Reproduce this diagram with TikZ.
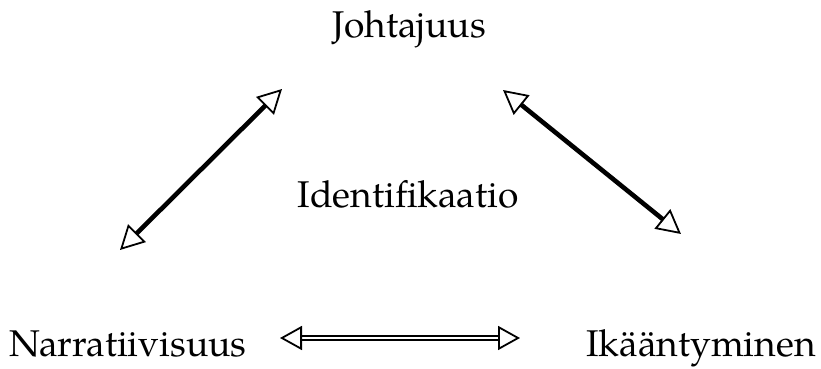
\documentclass[tikz,border=0pt]{standalone}
\usepackage{fontspec}
\setmainfont{TeX Gyre Pagella}
\usetikzlibrary{arrows.meta}
\tikzset{
    LAB/.style ={anchor=base, inner sep=0pt, font=\fontsize{18.6}{22}\selectfont},
    AR1/.style ={line width=2.3pt, {Triangle[open,length=12pt,width=12.5pt,line width=0.9pt]}-{Triangle[open,length=12pt,width=12.5pt,line width=0.9pt]}},
    AR2/.style ={double, line width=1pt, double distance=0.8pt, {Triangle[open,length=11pt,width=12pt,line width=0.9pt]}-{Triangle[open,length=11pt,width=12pt,line width=0.9pt]}}
}
\begin{document}
\begin{tikzpicture}[x=0.5pt,y=-0.5pt]
    \useasboundingbox (0,0) rectangle (821,369);
    % texts
    \node[LAB] (johto) at (409,38) {Johtajuus};
    \node[LAB] (ident) at (408,208) {Identifikaatio};
    \node[LAB] (narra) at (128,357) {Narratiivisuus};
    \node[LAB] (ikaa) at (701,357) {Ik\"a\"antyminen};
    % arrow ends
    \coordinate (l1) at (120,250);
    \coordinate (l2) at (282,89);
    \coordinate (r1) at (503,90);
    \coordinate (r2) at (681,234);
    \coordinate (b1) at (280,338);
    \coordinate (b2) at (520,338);
    \draw[AR1] (l1) -- (l2);
    \draw[AR1] (r1) -- (r2);
    \draw[AR2] (b1) -- (b2);
\end{tikzpicture}
\end{document}
